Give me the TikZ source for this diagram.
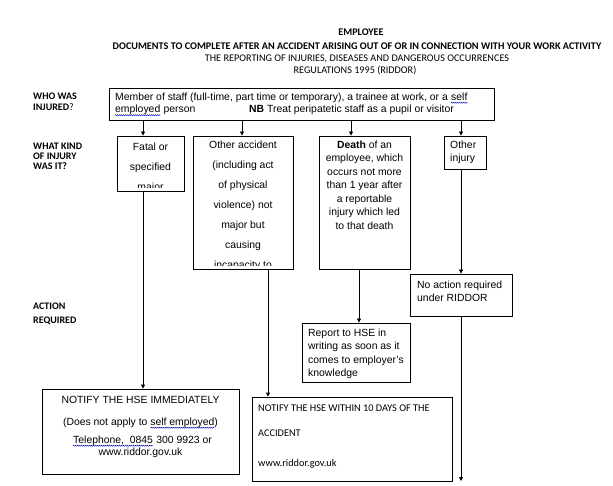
\documentclass[tikz,border=0pt]{standalone}
\usepackage{fontspec}
\setmainfont{Liberation Sans}
\newfontfamily\carlito{Carlito}
\usetikzlibrary{arrows.meta,fit,decorations.pathmorphing}
\begin{document}
\begin{tikzpicture}[x=1pt,y=-1pt,
  box/.style={draw, line width=0.8pt, inner sep=0pt},
  arr/.style={line width=0.8pt, -{Triangle[length=4pt,width=4pt]}},
  wave/.style={draw=blue!80!black, line width=0.4pt, decorate, decoration={snake, segment length=2pt, amplitude=0.6pt}},
  hdr/.style={inner sep=0pt, anchor=base, font=\carlito\fontsize{10.2}{12}\selectfont},
  hdrb/.style={hdr, font=\carlito\bfseries\fontsize{10.2}{12}\selectfont},
  lab/.style={inner sep=0pt, anchor=base west, font=\carlito\bfseries\fontsize{10}{12}\selectfont},
  t/.style={inner sep=0pt, font=\fontsize{10.4}{12}\selectfont},
  tc/.style={t, anchor=base},
  tl/.style={t, anchor=base west},
  cl/.style={inner sep=0pt, anchor=base west, font=\carlito\fontsize{10.3}{12}\selectfont}]
\useasboundingbox (0,0) rectangle (613,486);
\fill[white] (0,0) rectangle (613,486);

% header
\node[hdrb] (h1) at (361,35.5) {EMPLOYEE};
\node[hdrb] (h2) at (357,49.5) {DOCUMENTS TO COMPLETE AFTER AN ACCIDENT ARISING OUT OF OR IN CONNECTION WITH YOUR WORK ACTIVITY};
\node[hdr] (h3) at (357,61.5) {THE REPORTING OF INJURIES, DISEASES AND DANGEROUS OCCURRENCES};
\node[hdr] (h4) at (355,73.5) {REGULATIONS 1995 (RIDDOR)};

% left labels
\node[lab] (l1) at (33,99.5) {WHO WAS};
\node[lab] (l2) at (33,110.5) {INJURED{\mdseries ?}};
\node[lab] (l3) at (33,149.5) {WHAT KIND};
\node[lab] (l4) at (33,159.5) {OF INJURY};
\node[lab] (l5) at (33,169.5) {WAS IT?};
\node[lab] (l6) at (33,309.5) {ACTION};
\node[lab] (l7) at (33,323.5) {REQUIRED};

% boxes
\node[box, fit={(109,88) (494,120)}] (top) {};
\node[box, fit={(117,136) (184,191)}] (fatal) {};
\node[box, fit={(193,136) (293,269)}] (oacc) {};
\node[box, fit={(319,136) (410,269)}] (death) {};
\node[box, fit={(444,136) (486,169)}] (oinj) {};
\node[box, fit={(410,274) (512,316)}] (noact) {};
\node[box, fit={(302,323) (410,382)}] (report) {};
\node[box, fit={(42,389) (239,474)}] (immed) {};
\node[box, fit={(252,397) (452,481)}] (tend) {};

% top box text
\node[tl] (top-1) at (115,100.5) {Member of staff (full-time, part time or temporary), a trainee at work, or a};
\node[tl] (top-1w) at ([xshift=2.9pt]top-1.base east) {self};
\node[tl] (top-2w) at (115,113) {employed};
\node[tl] (top-2) at ([xshift=2.9pt]top-2w.base east) {person};
\node[tl] (top-3) at (249,113) {\textbf{NB} Treat peripatetic staff as a pupil or visitor};
\draw[wave] ([yshift=-2.2pt]top-1w.base west) -- ([yshift=-2.2pt]top-1w.base east);
\draw[wave] ([yshift=-2.2pt]top-2w.base west) -- ([yshift=-2.2pt]top-2w.base east);

% fatal box text (clipped)
\begin{scope}
\clip (117,136) rectangle (184,187.5);
\foreach \s [count=\i from 0] in {{Fatal or}, {specified}, {major}}
  \node[tc] (fatal-\i) at (150.5,150.5+20*\i) {\s};
\end{scope}

% other accident text (clipped)
\begin{scope}
\clip (193,136) rectangle (293,265.5);
\foreach \s [count=\i from 0] in {{Other accident}, {(including act}, {of physical}, {violence) not}, {major but}, {causing}, {incapacity to}}
  \node[tc] (oacc-\i) at (243,148.5+20*\i) {\s};
\end{scope}

% death text
\foreach \s [count=\i from 0] in {{\textbf{Death} of an}, {employee, which}, {occurs not more}, {than 1 year after}, {a reportable}, {injury which led}, {to that death}}
  \node[tc] (death-\i) at (364.5,148.5+13.45*\i) {\s};

% other injury
\node[tl] (oinj-1) at (450,148.5) {Other};
\node[tl] (oinj-2) at (450,161.5) {injury};

% no action
\node[tl] (noact-1) at (417,288.5) {No action required};
\node[tl] (noact-2) at (417,301.5) {under RIDDOR};

% report
\foreach \s [count=\i from 0] in {{Report to HSE in}, {writing as soon as it}, {comes to employer's}, {knowledge}}
  \node[tl] (report-\i) at (308,336.5+13.4*\i) {\s};

% notify immediately
\node[tc] (immed-1) at (140.5,403.5) {NOTIFY THE HSE IMMEDIATELY};
\node[tc] (immed-2) at (140.5,425.5) {(Does not apply to self employed)};
\draw[wave] ([xshift=-67.6pt,yshift=-2.2pt]immed-2.base east) -- ([xshift=-3.5pt,yshift=-2.2pt]immed-2.base east);
\node[tl] (immed-3w) at (73,443.5) {Telephone,\ \ 0845};
\node[tl] (immed-3) at ([xshift=2.9pt]immed-3w.base east) {300 9923 or};
\node[tc] (immed-4) at (140.5,455.8) {www.riddor.gov.uk};
\draw[wave] ([yshift=-2.2pt]immed-3w.base west) -- ([yshift=-2.2pt]immed-3w.base east);

% notify within 10 days
\node[cl] (tend-1) at (258,411.5) {NOTIFY THE HSE WITHIN 10 DAYS OF THE};
\node[cl] (tend-2) at (258,436.5) {ACCIDENT};
\node[cl] (tend-3) at (258,466) {www.riddor.gov.uk};

% connectors
\coordinate (xa) at (143,0);
\coordinate (xb) at (242,0);
\coordinate (xc) at (351,0);
\coordinate (xd) at (461,0);
\coordinate (xe) at (268,0);
\coordinate (xf) at (359,0);
\coordinate (endd) at (461,481);
\draw[arr] (top.south -| xa) -- (fatal.north -| xa);
\draw[arr] (top.south -| xb) -- (oacc.north -| xb);
\draw[arr] (top.south -| xc) -- (death.north -| xc);
\draw[arr] (top.south -| xd) -- (oinj.north -| xd);
\draw[arr] (fatal.south -| xa) -- (immed.north -| xa);
\draw[arr] (oacc.south -| xe) -- (tend.north -| xe);
\draw[arr] (death.south -| xf) -- (report.north -| xf);
\draw[arr] (oinj.south -| xd) -- (noact.north -| xd);
\draw[arr] (noact.south -| xd) -- (endd);
\end{tikzpicture}
\end{document}
